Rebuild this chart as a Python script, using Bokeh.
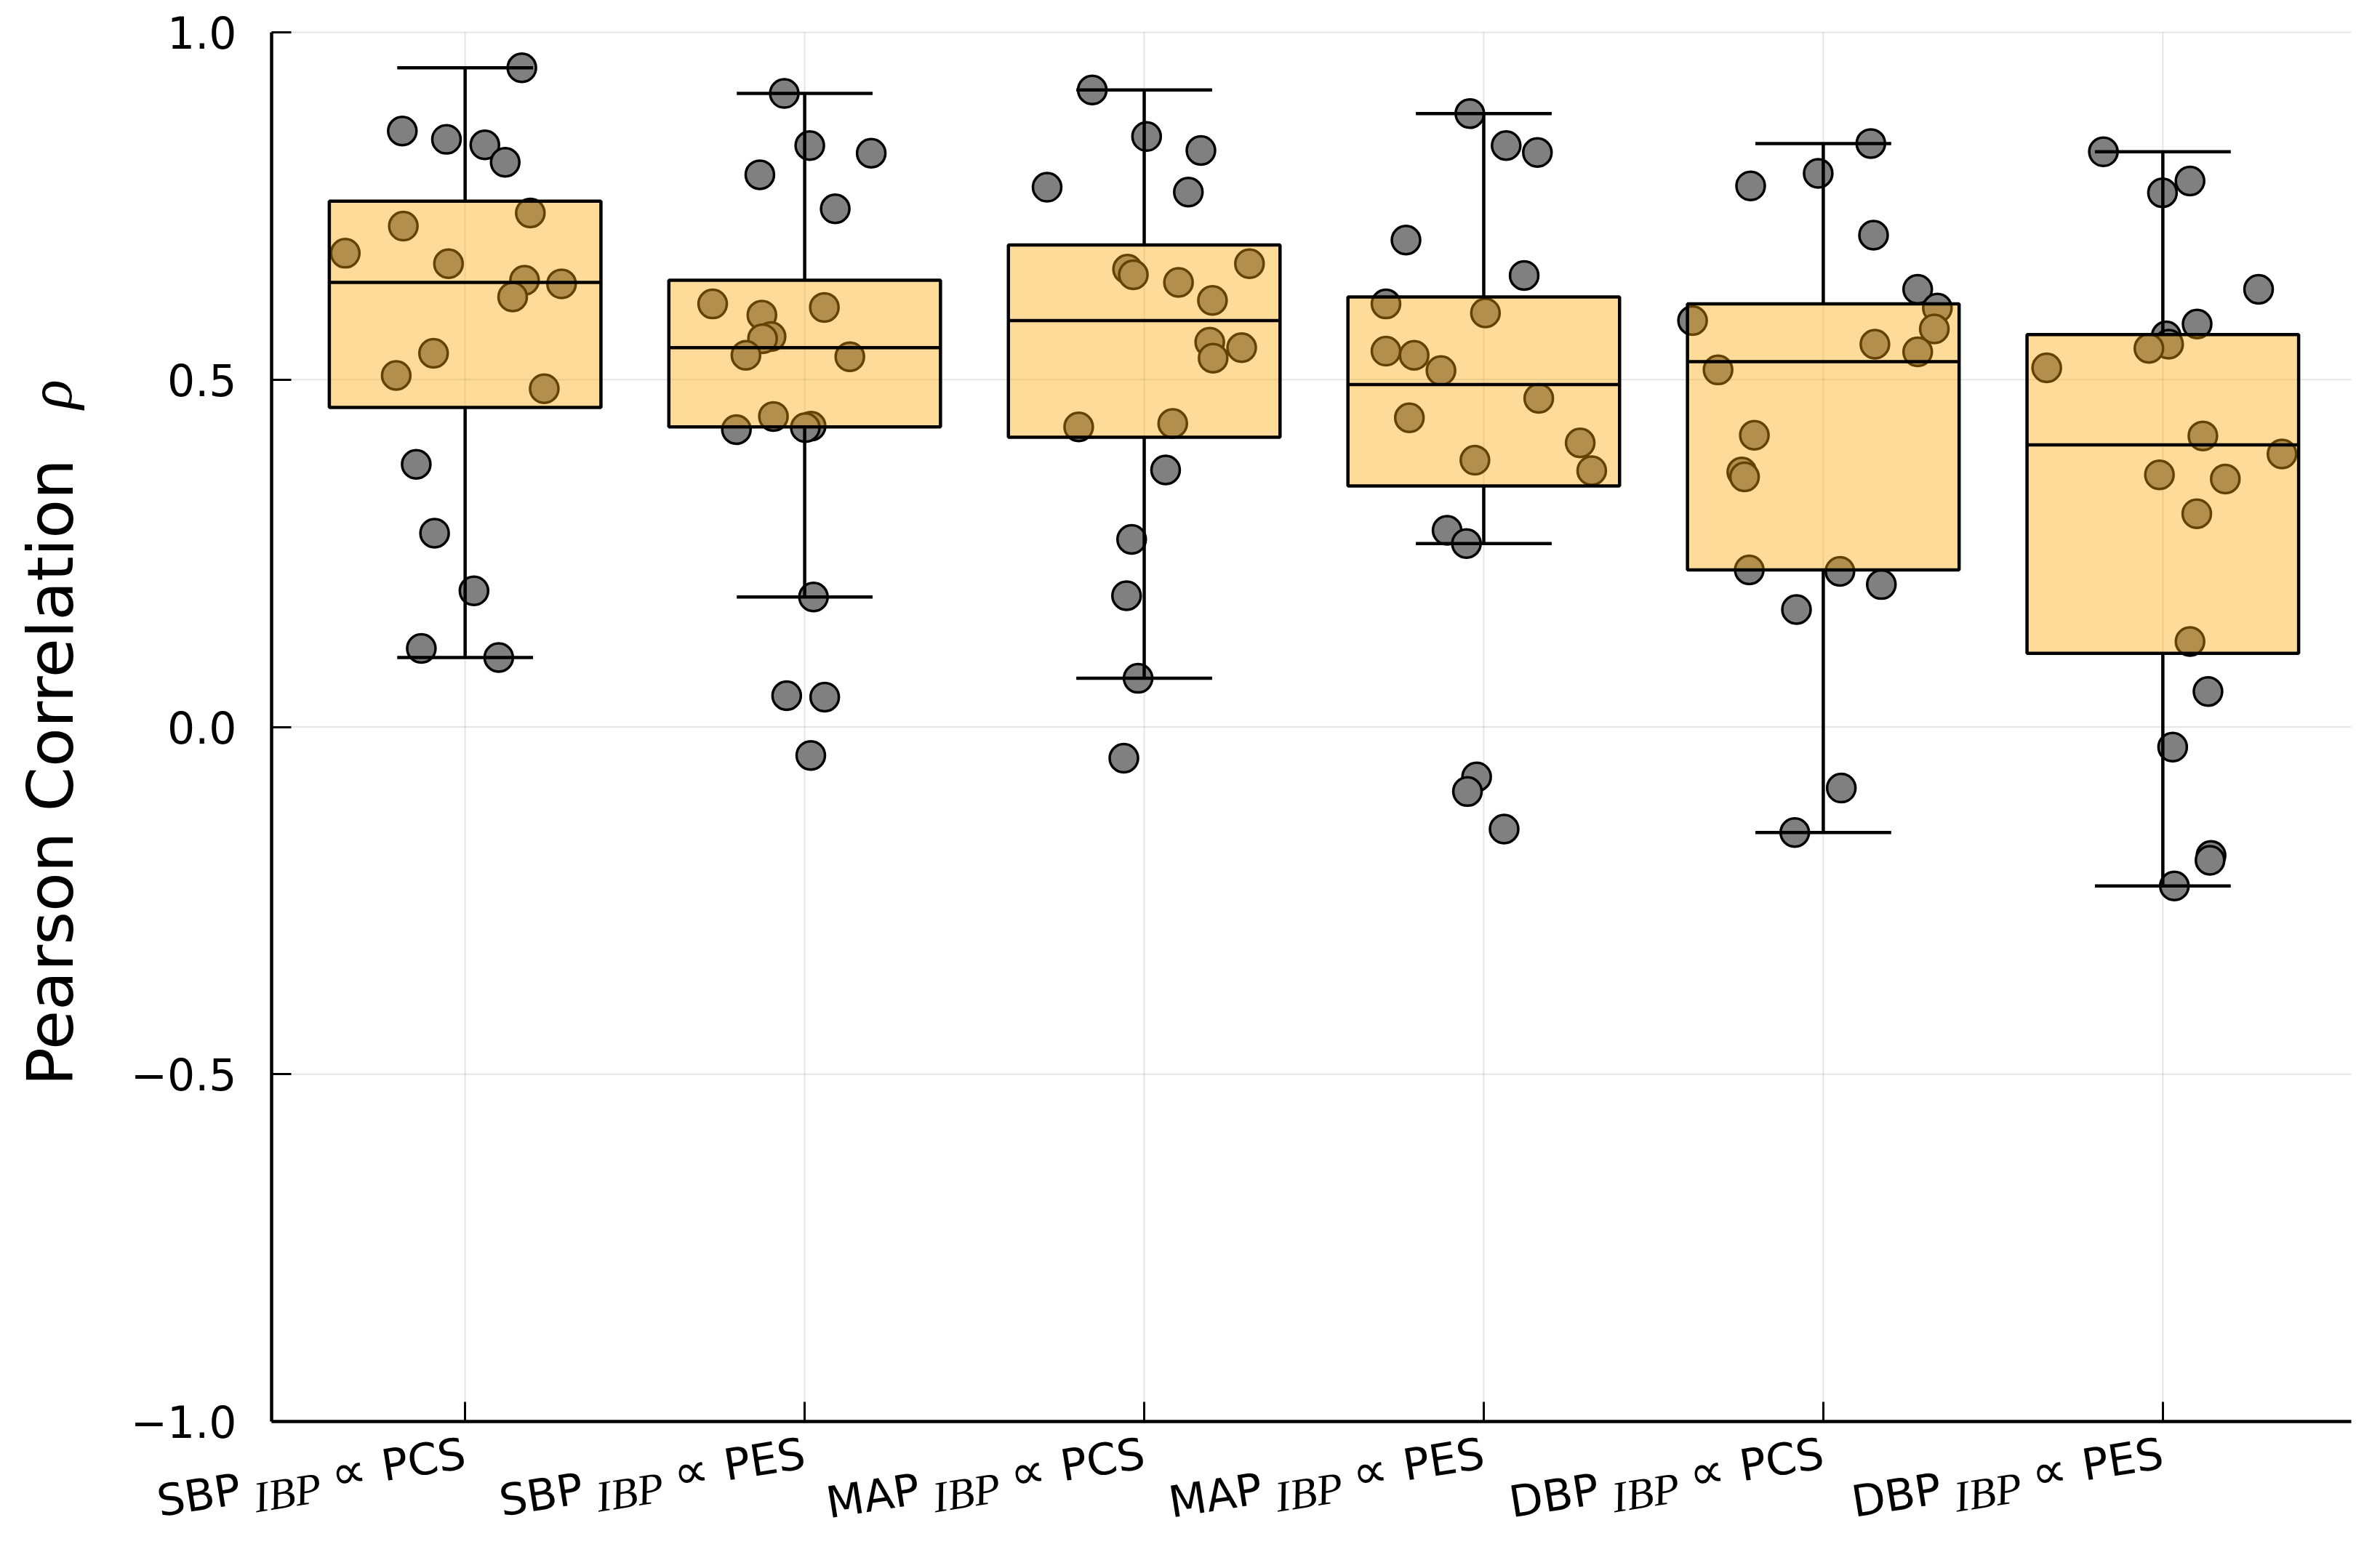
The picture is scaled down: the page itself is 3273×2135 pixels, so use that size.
import math
from bokeh.plotting import figure
from bokeh.models import Range1d, FixedTicker
from bokeh.embed import file_html
from bokeh.resources import INLINE
from bokeh.core.properties import value

# ---------------- data ----------------
prefixes = ["SBP", "SBP", "MAP", "MAP", "DBP", "DBP"]
suffixes = ["PCS", "PES", "PCS", "PES", "PCS", "PES"]
subscript = "IBP"
y_title = "Pearson Correlation"
y_symbol = "\u03c1"
y_ticks = [-1.0, -0.5, 0.0, 0.5, 1.0]
y_tick_labels = ["\u22121.0", "\u22120.5", "0.0", "0.5", "1.0"]

# box statistics per category
q1 = [0.460, 0.432, 0.417, 0.347, 0.226, 0.106]
median = [0.640, 0.546, 0.585, 0.493, 0.526, 0.406]
q3 = [0.757, 0.643, 0.694, 0.619, 0.609, 0.565]
whisker_low = [0.100, 0.187, 0.070, 0.264, -0.152, -0.229]
whisker_high = [0.949, 0.912, 0.917, 0.883, 0.840, 0.828]

# individual correlations and their horizontal jitter
vals_sbp_pcs = [0.949, 0.858, 0.846, 0.838, 0.813, 0.740, 0.721, 0.682, 0.667, 0.643,
                0.638, 0.619, 0.538, 0.506, 0.487, 0.378, 0.279, 0.196, 0.113, 0.100]
jit_sbp_pcs = [0.167, -0.185, -0.055, 0.058, 0.118, 0.192, -0.182, -0.353, -0.049, 0.175,
               0.284, 0.140, -0.093, -0.203, 0.233, -0.144, -0.090, 0.026, -0.129, 0.099]

vals_sbp_pes = [0.912, 0.837, 0.826, 0.795, 0.746, 0.609, 0.604, 0.593, 0.562, 0.559,
                0.535, 0.533, 0.447, 0.433, 0.431, 0.428, 0.187, 0.045, 0.043, -0.041]
jit_sbp_pes = [-0.060, 0.015, 0.196, -0.132, 0.090, -0.271, 0.058, -0.126, -0.099, -0.124,
               -0.173, 0.133, -0.092, 0.019, 0.002, -0.201, 0.026, -0.053, 0.059, 0.018]

vals_map_pcs = [0.917, 0.850, 0.830, 0.777, 0.770, 0.667, 0.659, 0.651, 0.640, 0.614,
                0.554, 0.546, 0.531, 0.437, 0.432, 0.370, 0.270, 0.189, 0.070, -0.045]
jit_map_pcs = [-0.153, 0.007, 0.167, -0.286, 0.130, 0.310, -0.049, -0.032, 0.101, 0.201,
               0.193, 0.287, 0.203, 0.084, -0.193, 0.063, -0.037, -0.052, -0.018, -0.060]

vals_map_pes = [0.883, 0.837, 0.827, 0.701, 0.650, 0.609, 0.596, 0.541, 0.535, 0.513,
                0.473, 0.445, 0.409, 0.384, 0.369, 0.283, 0.264, -0.072, -0.093, -0.147]
jit_map_pes = [-0.041, 0.066, 0.158, -0.229, 0.119, -0.288, 0.005, -0.288, -0.205, -0.126,
               0.162, -0.219, 0.284, -0.026, 0.318, -0.108, -0.051, -0.021, -0.048, 0.060]

vals_dbp_pcs = [0.840, 0.797, 0.779, 0.708, 0.630, 0.603, 0.585, 0.573, 0.551, 0.540,
                0.514, 0.420, 0.367, 0.360, 0.226, 0.224, 0.205, 0.169, -0.088, -0.152]
jit_dbp_pcs = [0.140, -0.015, -0.214, 0.148, 0.278, 0.336, -0.385, 0.327, 0.152, 0.278,
               -0.310, -0.203, -0.240, -0.232, -0.218, 0.049, 0.171, -0.079, 0.053, -0.084]

vals_dbp_pes = [0.828, 0.786, 0.769, 0.630, 0.580, 0.563, 0.551, 0.545, 0.517, 0.419,
                0.393, 0.363, 0.357, 0.307, 0.123, 0.051, -0.029, -0.185, -0.192, -0.229]
jit_dbp_pes = [-0.175, 0.080, -0.001, 0.282, 0.101, 0.010, 0.017, -0.041, -0.342, 0.118,
               0.351, -0.010, 0.184, 0.100, 0.080, 0.133, 0.029, 0.142, 0.139, 0.034]

all_vals = [vals_sbp_pcs, vals_sbp_pes, vals_map_pcs, vals_map_pes, vals_dbp_pcs, vals_dbp_pes]
all_jit = [jit_sbp_pcs, jit_sbp_pes, jit_map_pcs, jit_map_pes, jit_dbp_pcs, jit_dbp_pes]

# ---------------- layout geometry (pixels) ----------------
W, H = 3257, 2119
FL, FR, FT, FB = 373, 3233, 44, 1955          # plot-area edges on the canvas
X0, X1 = 0.43, 6.555                          # visible category span of the plot area
Y0, Y1 = -1.0, 1.0
kx = (X1 - X0) / (FR - FL)
ky = (Y1 - Y0) / (FB - FT)
xr = Range1d(X0 - FL * kx, X1 + (W - FR) * kx)
yr = Range1d(Y0 - (H - FB) * ky, Y1 + FT * ky)

p = figure(width=W, height=H, x_range=xr, y_range=yr,
           output_backend="svg", toolbar_location=None,
           min_border_left=0, min_border_right=0, min_border_top=0, min_border_bottom=0)
p.outline_line_color = None
p.background_fill_color = "white"
p.border_fill_color = "white"

centers = list(range(1, len(prefixes) + 1))

# axes fixed at the plot-area edges
p.xaxis.fixed_location = Y0
p.xaxis.bounds = (X0, X1)
p.yaxis.fixed_location = X0
p.yaxis.bounds = (Y0, Y1)
for ax in (p.xaxis[0], p.yaxis[0]):
    ax.axis_line_color = "black"
    ax.axis_line_width = 4.5
    ax.major_tick_in = 27
    ax.major_tick_out = 0
    ax.major_tick_line_color = "black"
    ax.major_tick_line_width = 3
    ax.minor_tick_line_color = None

p.xaxis.ticker = FixedTicker(ticks=centers)
p.xaxis.major_label_overrides = {c: "" for c in centers}
p.yaxis.ticker = FixedTicker(ticks=y_ticks)
p.yaxis.major_label_overrides = {t: l for t, l in zip(y_ticks, y_tick_labels)}
p.yaxis.major_label_text_font = "DejaVu Sans"
p.yaxis.major_label_text_font_size = "60px"
p.yaxis.major_label_text_color = "black"
p.yaxis.major_label_standoff = 48

# grid limited to the plot area
p.xgrid.visible = False
p.ygrid.visible = False
p.segment(x0=[X0] * len(y_ticks), x1=[X1] * len(y_ticks), y0=y_ticks, y1=y_ticks,
          line_color="black", line_alpha=0.1, line_width=2)
p.segment(x0=centers, x1=centers, y0=[Y0] * len(centers), y1=[Y1] * len(centers),
          line_color="black", line_alpha=0.1, line_width=2)

# points (under the boxes)
px, py = [], []
for c, vs, js in zip(centers, all_vals, all_jit):
    for v, j in zip(vs, js):
        px.append(c + j)
        py.append(v)
p.scatter(px, py, size=39, fill_color="#808080", line_color="black", line_width=3.5)

# boxes
hw = 0.4
cw = 0.2
p.quad(left=[c - hw for c in centers], right=[c + hw for c in centers],
       bottom=q1, top=q3, fill_color="orange", fill_alpha=0.4,
       line_color="black", line_width=4.5)
p.segment(x0=[c - hw for c in centers], x1=[c + hw for c in centers],
          y0=median, y1=median, line_color="black", line_width=4.5)
p.segment(x0=centers, x1=centers, y0=q3, y1=whisker_high, line_color="black", line_width=4.5)
p.segment(x0=centers, x1=centers, y0=q1, y1=whisker_low, line_color="black", line_width=4.5)
p.segment(x0=[c - cw for c in centers], x1=[c + cw for c in centers],
          y0=whisker_high, y1=whisker_high, line_color="black", line_width=4.5)
p.segment(x0=[c - cw for c in centers], x1=[c + cw for c in centers],
          y0=whisker_low, y1=whisker_low, line_color="black", line_width=4.5)

# rotated category labels  (prefix_{IBP} ∝ suffix), anchored under each tick
theta = math.radians(9)
ct, st = math.cos(theta), math.sin(theta)
sans_w = {"P": 0.603, "C": 0.698, "S": 0.635, "E": 0.632, "B": 0.686,
          "M": 0.863, "A": 0.684, "D": 0.770}


def tw(s, size):
    return sum(sans_w[ch] for ch in s) * size


base_drop = 43
piece_specs = {
    "suf": ("DejaVu Sans", "60px", "normal"),
    "prop": ("DejaVu Sans", "68px", "normal"),
    "sub": ("Liberation Serif", "60px", "italic"),
    "pre": ("DejaVu Sans", "60px", "normal"),
}
pieces = {k: {"x": [], "y": [], "t": [], "xo": [], "yo": []} for k in piece_specs}
for c, pre, suf in zip(centers, prefixes, suffixes):
    w_suf = tw(suf, 60)
    d_prop = w_suf + 22
    d_sub = d_prop + 65
    d_pre = d_sub + 110
    for key, txt, d, s in (("suf", suf, 0, 0), ("prop", "\u221d", d_prop, 0),
                           ("sub", subscript, d_sub, 16), ("pre", pre, d_pre, 0)):
        pieces[key]["x"].append(c)
        pieces[key]["y"].append(Y0)
        pieces[key]["t"].append(txt)
        pieces[key]["xo"].append(-d * ct + s * st)
        pieces[key]["yo"].append(base_drop + d * st + s * ct)

for key, (font, size, style) in piece_specs.items():
    d = pieces[key]
    p.text(x=d["x"], y=d["y"], text=d["t"], x_offset=d["xo"], y_offset=d["yo"],
           angle=theta, text_align="right", text_baseline="alphabetic",
           text_font=value(font), text_font_size=size, text_font_style=style,
           text_color="black")

# y axis title
p.text(x=[X0], y=[-0.517], text=[y_title], x_offset=-304, angle=math.pi / 2,
       text_align="left", text_baseline="alphabetic", text_font=value("DejaVu Sans"),
       text_font_size="88px", text_color="black")
p.text(x=[X0], y=[0.458], text=[y_symbol], x_offset=-304, angle=math.pi / 2,
       text_align="left", text_baseline="alphabetic", text_font=value("Liberation Serif"),
       text_font_size="84px", text_font_style="italic", text_color="black")

open("out.html", "w").write(file_html(p, INLINE))
